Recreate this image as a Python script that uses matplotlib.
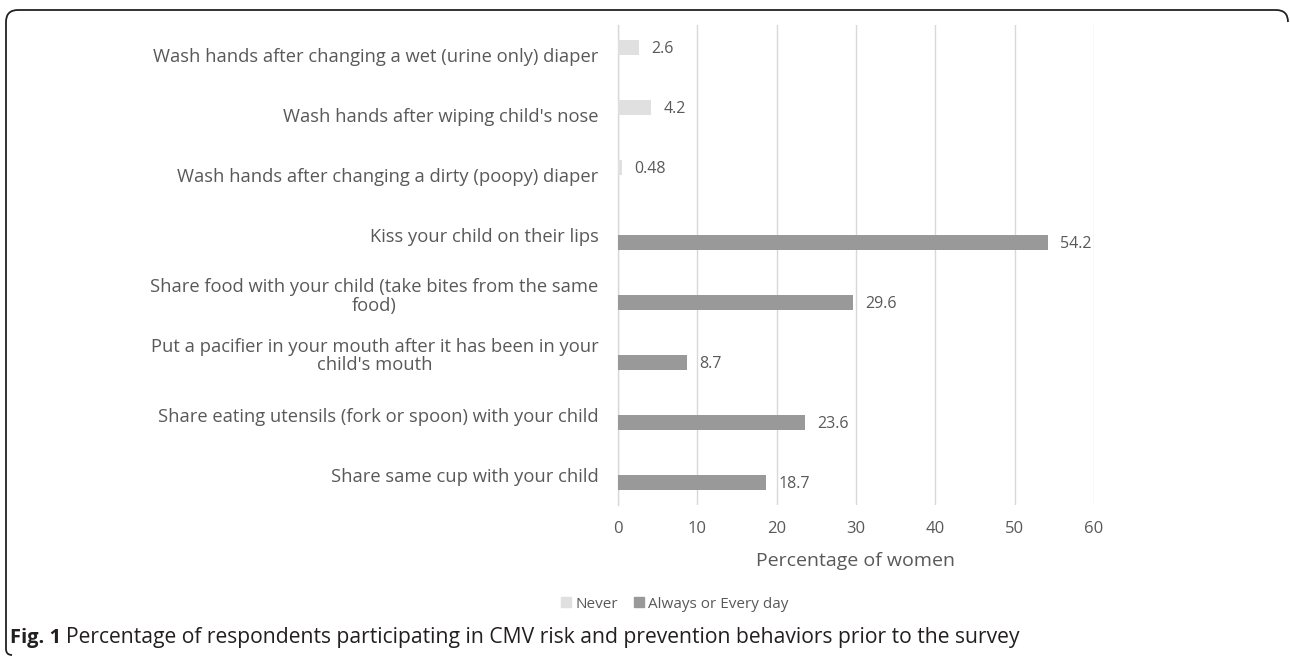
import matplotlib
matplotlib.use("Agg")
import matplotlib.pyplot as plt
import numpy as np
from matplotlib.patches import Rectangle
from matplotlib.path import Path
from matplotlib.patches import PathPatch

categories = [
    "Wash hands after changing a wet (urine only) diaper",
    "Wash hands after wiping child's nose",
    "Wash hands after changing a dirty (poopy) diaper",
    "Kiss your child on their lips",
    "Share food with your child (take bites from the same\nfood)",
    "Put a pacifier in your mouth after it has been in your\nchild's mouth",
    "Share eating utensils (fork or spoon) with your child",
    "Share same cup with your child",
]
never = [2.6, 4.2, 0.48, 0, 0, 0, 0, 0]
always = [0, 0, 0, 54.2, 29.6, 8.7, 23.6, 18.7]
xticks = [0, 10, 20, 30, 40, 50, 60]
series_names = ["Never", "Always or Every day"]
colors = ["#e0e0e0", "#999999"]

TXT = "#595959"
FONT = "Open Sans"
plt.rcParams['font.family'] = [FONT, 'DejaVu Sans']

W, H = 1290, 658
fig = plt.figure(figsize=(W/100, H/100), dpi=100)
ax = fig.add_axes([618/W, 1-504.5/H, (1094-618)/W, (504.5-24.5)/H])

n = len(categories)
y = np.arange(n)
bh = 0.25
ax.barh(y - bh/2, never, height=bh, color=colors[0], label=series_names[0], zorder=3)
ax.barh(y + bh/2, always, height=bh, color=colors[1], label=series_names[1], zorder=3)

for i in range(n):
    if never[i] > 0:
        ax.annotate(f"{never[i]:g}", (never[i], y[i]-bh/2), xytext=(9, 0), textcoords='offset points',
                    va='center_baseline', ha='left', color=TXT, fontsize=11.5)
    if always[i] > 0:
        ax.annotate(f"{always[i]:g}", (always[i], y[i]+bh/2), xytext=(9, 0), textcoords='offset points',
                    va='center_baseline', ha='left', color=TXT, fontsize=11.5)

ax.set_ylim(n-0.5, -0.5)
ax.set_xlim(0, 60)
ax.set_xticks(xticks)
ax.set_xticklabels([str(t) for t in xticks], color=TXT, fontsize=12)
ax.set_yticks(y)
ax.set_yticklabels(categories, color=TXT, fontsize=13.2, multialignment='center', linespacing=1.0)
ax.tick_params(axis='both', length=0)
ax.tick_params(axis='x', pad=12)
ax.tick_params(axis='y', pad=14)
ax.grid(axis='x', color='#d9d9d9', linewidth=1, zorder=0)
for s in ['top', 'right', 'bottom']:
    ax.spines[s].set_visible(False)
ax.spines['left'].set_color('#d9d9d9')
ax.spines['left'].set_linewidth(1)
ax.set_xlabel("Percentage of women", color=TXT, fontsize=14, labelpad=11)

handles = [Rectangle((0, 0), 1, 1, color=c) for c in colors]
fig.legend(handles, series_names, loc='center', bbox_to_anchor=(675/W, 1-604/H), ncol=2,
           frameon=False, fontsize=11, labelcolor=TXT, handlelength=0.65, handleheight=0.65,
           handletextpad=0.3, columnspacing=1.0)

# caption
CAP = '#231f20'
t1 = fig.text(10/W, 1-638/H, "Fig. 1", fontsize=14.5, fontweight='bold', color=CAP, va='center', ha='left')
fig.canvas.draw()
bb = t1.get_window_extent()
fig.text((bb.x1 + 5)/W, 1-638/H, "Percentage of respondents participating in CMV risk and prevention behaviors prior to the survey",
         fontsize=15.2, color=CAP, va='center', ha='left')

# frame (rounded, open on right/bottom)
r = 12
verts = [(1288, 22), (1288, 10+r), (1288, 10), (1288-r, 10), (6+r, 10), (6, 10), (6, 10+r),
         (6, 655-6), (6, 655), (6+6, 655)]
pverts = [(x/W, 1-yy/H) for x, yy in verts]
codes = [Path.MOVETO, Path.LINETO, Path.CURVE3, Path.CURVE3, Path.LINETO, Path.CURVE3, Path.CURVE3,
         Path.LINETO, Path.CURVE3, Path.CURVE3]
fig.patches.append(PathPatch(Path(pverts, codes), transform=fig.transFigure, fill=False,
                             edgecolor='#222222', linewidth=1.3))

fig.savefig("out.png", dpi=100)
